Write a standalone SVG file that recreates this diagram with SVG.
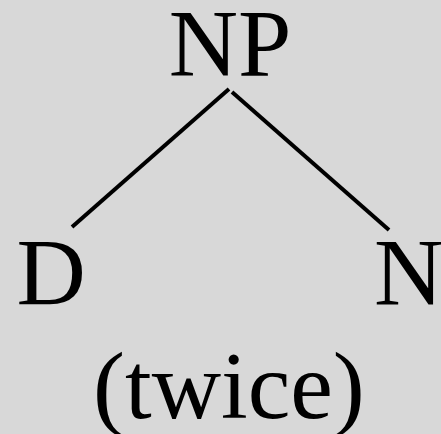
<svg xmlns="http://www.w3.org/2000/svg" width="441" height="434" viewBox="0 0 441 434">
<style>
.t{font-family:"Liberation Serif","Times New Roman",serif;font-size:96px;fill:#000}
.e{stroke:#000;stroke-width:4;stroke-linecap:butt}
</style>
<rect width="441" height="434" fill="#d8d8d8"/>
<g id="edges">
<line class="e" x1="229" y1="89" x2="72" y2="227"/>
<line class="e" x1="232" y1="92" x2="389" y2="230"/>
</g>
<g id="np"><text class="t" x="230" y="76" text-anchor="middle">NP</text></g>
<g id="d"><text class="t" x="16.5" y="305">D</text></g>
<g id="n"><text class="t" x="374" y="305">N</text></g>
<g id="twice"><text class="t" x="93" y="418">(twice)</text></g>
</svg>
